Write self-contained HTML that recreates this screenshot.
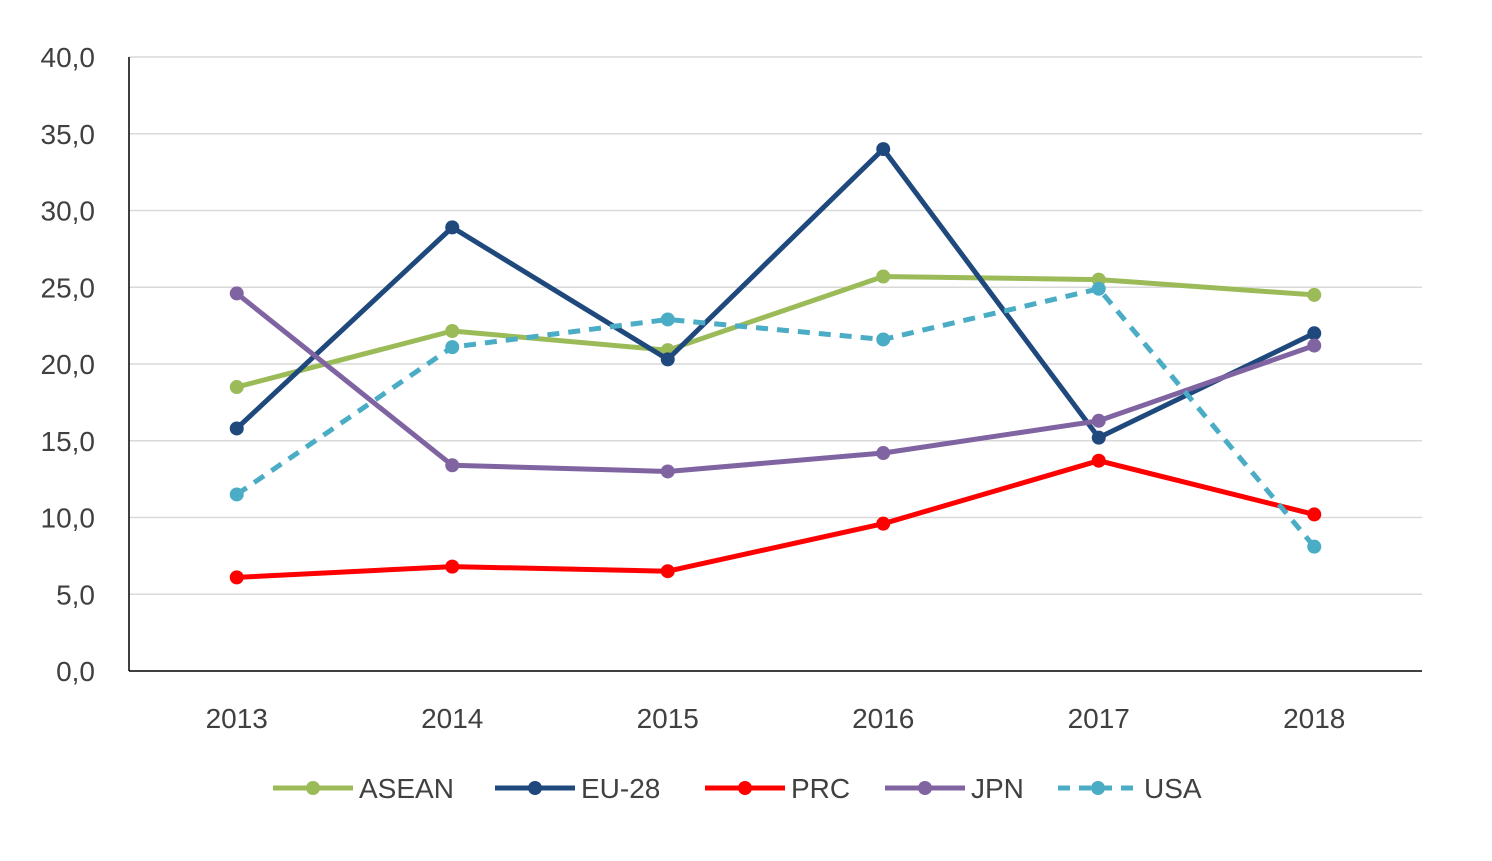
<!DOCTYPE html>
<html><head><meta charset="utf-8"><style>
body{margin:0;background:#fff;}
svg text{font-family:"Liberation Sans",sans-serif;fill:#404040;}
</style></head><body>
<svg id="chart" width="1492" height="856" xmlns="http://www.w3.org/2000/svg"></svg>
<script>
const categories=["2013","2014","2015","2016","2017","2018"];
const yTicks=[0,5,10,15,20,25,30,35,40];
const yTickLabels=["0,0","5,0","10,0","15,0","20,0","25,0","30,0","35,0","40,0"];
const seriesNames=["ASEAN","EU-28","PRC","JPN","USA"];
const asean=[18.5,22.15,20.9,25.7,25.5,24.5];
const eu28=[15.8,28.9,20.3,34.0,15.2,22.0];
const prc=[6.1,6.8,6.5,9.6,13.7,10.2];
const jpn=[24.6,13.4,13.0,14.2,16.3,21.2];
const usa=[11.5,21.1,22.9,21.6,24.9,8.1];
const seriesValues=[asean,eu28,prc,jpn,usa];
const colors=["#9BBB59","#1F497D","#FF0000","#8064A2","#4BACC6"];
const dashes=[null,null,null,null,"12,9"];
const svg=document.getElementById('chart');
const NS="http://www.w3.org/2000/svg";
const L=129,R=1422,T=57,B=671,yMax=40;
const band=(R-L)/categories.length;
const x=i=>L+band*(i+0.5);
const y=v=>B-(B-T)*v/yMax;
function mk(tag,attrs,parent){const e=document.createElementNS(NS,tag);for(const k in attrs)e.setAttribute(k,attrs[k]);(parent||svg).appendChild(e);return e;}
yTicks.forEach((t,i)=>{
  if(t>0){const g=mk('line',{x1:L,x2:R,y1:y(t),y2:y(t),stroke:'#d9d9d9','stroke-width':1.5});
  
  }
  const tx=mk('text',{x:95,y:y(t)+10,'text-anchor':'end','font-size':28});
  tx.textContent=yTickLabels[i];
  
  
});
const ya=mk('line',{x1:L,x2:L,y1:T,y2:B,stroke:'#000','stroke-width':1.5});


const xa=mk('line',{x1:L,x2:R,y1:B,y2:B,stroke:'#000','stroke-width':1.5});


categories.forEach((c,i)=>{
  const tx=mk('text',{x:x(i),y:728,'text-anchor':'middle','font-size':28});
  tx.textContent=c;
  
  
});
seriesValues.forEach((vals,s)=>{
  const g=mk('g',{});
  
  
  const pts=vals.map((v,i)=>x(i)+','+y(v)).join(' ');
  const a={points:pts,fill:'none',stroke:colors[s],'stroke-width':5,'stroke-linejoin':'round'};
  if(dashes[s])a['stroke-dasharray']=dashes[s];
  const pl=mk('polyline',a,g);
  
  
  vals.forEach((v,i)=>{
    const c=mk('circle',{cx:x(i),cy:y(v),r:7,fill:colors[s]},g);
    
    
  });
});
const legX=[273,495,705,885,1058];
seriesNames.forEach((n,s)=>{
  const g=mk('g',{});
  
  
  const a={x1:legX[s],x2:legX[s]+80,y1:788,y2:788,stroke:colors[s],'stroke-width':5};
  if(dashes[s])a['stroke-dasharray']=dashes[s];
  mk('line',a,g);
  mk('circle',{cx:legX[s]+40,cy:788,r:7,fill:colors[s]},g);
  const t=mk('text',{x:legX[s]+86,y:798,'font-size':28},g);
  t.textContent=n;
});
</script>
</body></html>
